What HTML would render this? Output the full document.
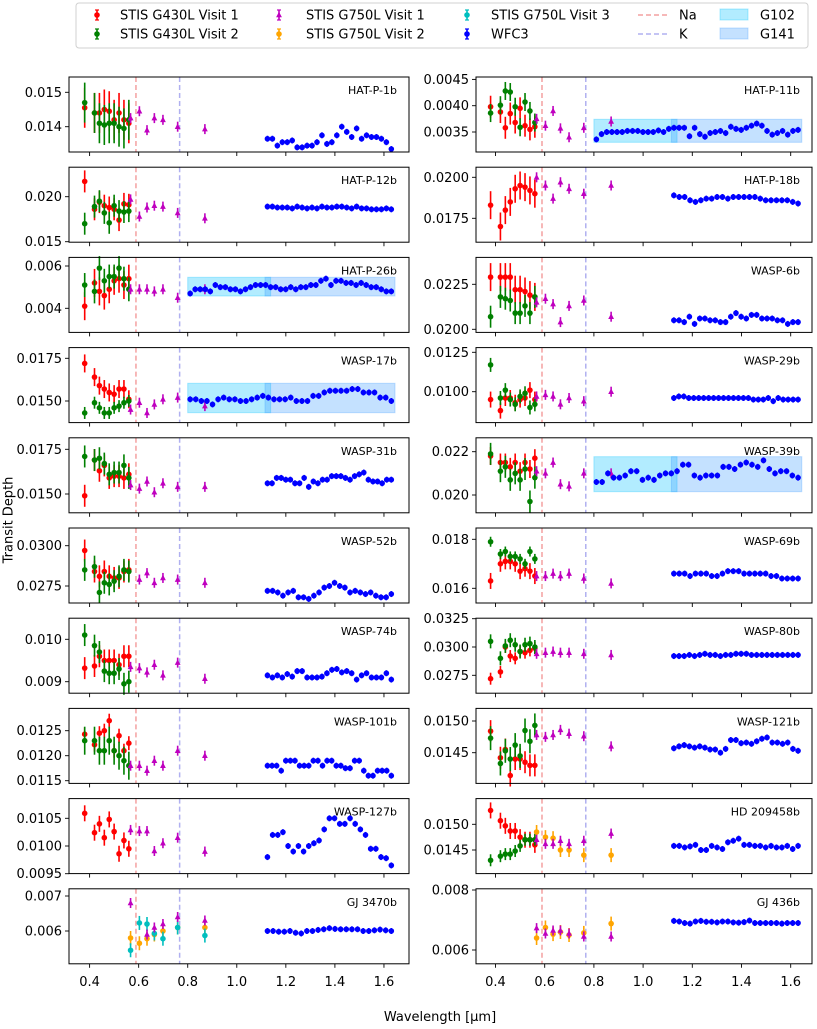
<!DOCTYPE html>
<html><head><meta charset="utf-8"><style>
body{margin:0;background:#fff}
svg text{font-family:"DejaVu Sans","Liberation Sans",sans-serif;fill:#000}
</style></head><body>
<svg id="s" xmlns="http://www.w3.org/2000/svg" width="817" height="1024" viewBox="0 0 817 1024">
<rect x="0" y="0" width="817" height="1024" fill="#fff"/>
<rect x="76" y="3" width="732" height="45" rx="3" fill="#fff" stroke="#d0d0d0"/>
<text x="9" y="520" font-size="13" transform="rotate(-90 9 520)" text-anchor="middle" dominant-baseline="middle">Transit Depth</text>
<text x="440" y="1021" font-size="13" text-anchor="middle">Wavelength [µm]</text>
</svg>
<script>
const S=document.getElementById('s');const NS='http://www.w3.org/2000/svg';
function el(t,a,txt){const e=document.createElementNS(NS,t);for(const k in a)e.setAttribute(k,a[k]);if(txt!==undefined)e.textContent=txt;S.appendChild(e);return e;}
const COL={R:'#ff0000',G:'#008000',M:'#bf00bf',O:'#ffa500',C:'#00bfbf',B:'#0000ff'};
const W1=[0.38,0.42,0.44,0.46,0.48,0.50,0.52,0.54,0.56];
const W2=[0.567,0.603,0.634,0.664,0.699,0.759,0.87];
function mark(x,y,c,tri,e){
  el('line',{x1:x,y1:y-e,x2:x,y2:y+e,stroke:c,'stroke-width':1.6});
  if(tri)el('polygon',{points:`${x},${y-3.3} ${x-2.9},${y+2.3} ${x+2.9},${y+2.3}`,fill:c});
  else el('circle',{cx:x,cy:y,r:2.8,fill:c});
}
// legend
function legItem(mx,y,c,tri,label,tx){mark(mx,y,c,tri,5);el('line',{x1:mx-2,y1:y-5,x2:mx+2,y2:y-5,stroke:c,'stroke-width':1.2});el('line',{x1:mx-2,y1:y+5,x2:mx+2,y2:y+5,stroke:c,'stroke-width':1.2});el('text',{x:tx,y:y+4.5,'font-size':13},label);}
legItem(97,15,COL.R,0,'STIS G430L Visit 1',120);
legItem(97,34,COL.G,0,'STIS G430L Visit 2',120);
legItem(279,15,COL.M,1,'STIS G750L Visit 1',306);
legItem(279,34,COL.O,0,'STIS G750L Visit 2',306);
legItem(467,15,COL.C,0,'STIS G750L Visit 3',491);
legItem(467,34,COL.B,0,'WFC3',491);
el('line',{x1:638,y1:15,x2:668,y2:15,stroke:'#f4a0a0','stroke-width':1.5,'stroke-dasharray':'5,3'});
el('text',{x:679,y:19.5,'font-size':13},'Na');
el('line',{x1:638,y1:34,x2:668,y2:34,stroke:'#b0b0f0','stroke-width':1.5,'stroke-dasharray':'5,3'});
el('text',{x:679,y:38.5,'font-size':13},'K');
el('rect',{x:720,y:9,width:28,height:11,fill:'#00bfff','fill-opacity':0.3,stroke:'#00bfff','stroke-opacity':0.3});
el('text',{x:760,y:19.5,'font-size':13},'G102');
el('rect',{x:720,y:28,width:28,height:11,fill:'#3a9bff','fill-opacity':0.3,stroke:'#3a9bff','stroke-opacity':0.3});
el('text',{x:760,y:38.5,'font-size':13},'G141');

const P=[
{n:'HAT-P-1b',c:0,r:0,a:[.015,92.3,.014,126.7],t:[['0.015',.015],['0.014',.014]],
R:[.01455,.0144,.0144,.0145,.01445,.0142,.0144,.0142,.0141],G:[.0147,.0144,.0141,.01405,.0141,.0141,.0140,.01395,.0142],ge:20,re:20,
M:[.01425,.01445,.0139,.01425,.0142,.0140,.01393],
B:[.01365,.01365,.01345,.01355,.01355,.0136,.0134,.0134,.01345,.01345,.01355,.01375,.0135,.01355,.01375,.0140,.01385,.0137,.01395,.01365,.01375,.0137,.0137,.01365,.01355,.01335]},
{n:'HAT-P-11b',c:1,r:0,a:[.004,105.7,.0035,132],t:[['0.0045',.0045],['0.0040',.004],['0.0035',.0035]],
R:[.00398,.00388,.00358,.00385,.00368,.00395,.00362,.00355,.0036],G:[.00386,.00401,.00428,.00426,.00398,.00359,.00407,.0039,.00368],ge:9,
M:[.00375,.00362,.0039,.00357,.0034,.00358,.0037],band:[119.3,142.3],b0:0.81,
B:[.00336,.00346,.0035,.0035,.0035,.0035,.00352,.00352,.00352,.0035,.0035,.0035,.00353,.0035,.00356,.00358,.00358,.00358,.00342,.00358,.00346,.00341,.00348,.0035,.00352,.00348,.0036,.00356,.00354,.00358,.00362,.00366,.00362,.00352,.00345,.00348,.00352,.00345,.00352,.00354]},
{n:'HAT-P-12b',c:0,r:1,a:[.02,196.7,.015,241.7],t:[['0.020',.02],['0.015',.015]],
R:[.0217,.0186,.0194,.0190,.0188,.0186,.0174,.0192,.0191],G:[.0170,.0189,.0195,.0182,.0171,.0190,.0184,.0183,.0184],
M:[.0197,.0178,.0188,.0190,.0189,.0182,.0176],
B:[.0189,.0189,.0188,.0188,.0188,.0187,.0189,.0188,.0187,.0188,.0187,.0189,.0188,.0188,.0189,.0189,.0188,.0187,.0189,.0187,.0187,.0186,.0186,.0186,.0187,.0186]},
{n:'HAT-P-18b',c:1,r:1,a:[.02,177.3,.0175,218.3],t:[['0.0200',.02],['0.0175',.0175]],
R:[.0183,.0170,.0180,.0185,.0193,.0195,.0194,.0192,.0190],re:14,
M:[.0200,.0195,.0187,.0197,.0193,.0190,.0195],
B:[.0189,.0188,.0188,.0186,.0185,.0186,.0187,.0187,.0188,.0188,.0187,.0188,.0188,.0188,.0188,.0188,.0187,.0186,.0186,.0186,.0186,.0186,.0185,.0184]},
{n:'HAT-P-26b',c:0,r:2,a:[.006,266,.004,308.3],t:[['0.006',.006],['0.004',.004]],
R:[.0041,.0052,.0048,.0046,.0049,.0053,.0054,.0051,.0054],G:[.0051,.0048,.0059,.0053,.0055,.0055,.0059,.0054,.0049],re:14,ge:12,
M:[.0049,.0049,.0049,.0048,.0049,.0045,.0049],band:[277.3,296],b0:0.81,
B:[.0047,.0049,.0049,.0049,.0048,.0051,.0050,.0050,.0049,.0049,.0048,.0049,.0050,.0051,.0051,.0051,.0050,.0050,.0049,.0049,.0050,.0049,.0050,.0050,.0051,.0051,.0053,.0054,.0051,.0053,.0053,.0052,.0052,.0051,.0052,.0051,.0050,.0050,.0049,.0048,.0048]},
{n:'WASP-6b',c:1,r:2,a:[.0225,284.3,.02,329.3],t:[['0.0225',.0225],['0.0200',.02]],
R:[.0229,.0229,.0229,.0229,.0222,.0222,.0221,.0219,.0218],G:[.0207,.0218,.0217,.0216,.0209,.0209,.0213,.0209,.0218],re:14,
M:[.0215,.0217,.0214,.0204,.0213,.0216,.0207],
B:[.0205,.0205,.0204,.0207,.0203,.0206,.0206,.0205,.0205,.0204,.0204,.0207,.0209,.0207,.0206,.0208,.0208,.0206,.0206,.0206,.0205,.0205,.0203,.0204,.0204]},
{n:'WASP-17b',c:0,r:3,a:[.0175,358.3,.015,401],t:[['0.0175',.0175],['0.0150',.015]],
R:[.0172,.0164,.0159,.0157,.0155,.0154,.0157,.0157,.0151],G:[.0143,.0149,.0146,.0143,.0143,.0146,.0147,.0149,.0150],re:9,ge:6,
M:[.0145,.0149,.0143,.0148,.0151,.0152,.0147],band:[383.3,412.7],b0:0.81,
B:[.0151,.0151,.0150,.0150,.0148,.0151,.0152,.0151,.0151,.0150,.0150,.0151,.0152,.0153,.0152,.0151,.0151,.0151,.0152,.0150,.0150,.0150,.0153,.0153,.0155,.0156,.0156,.0156,.0156,.0157,.0157,.0155,.0155,.0155,.0152,.0152,.0150]},
{n:'WASP-29b',c:1,r:3,a:[.0125,352.3,.01,391.7],t:[['0.0125',.0125],['0.0100',.01]],
R:[.0095,.0088,.0096,.0096,.0093,.0095,.0096,.0101,.0095],G:[.0117,.0096,.0101,.0095,.0092,.0097,.0099,.0090,.0092],re:8,ge:7,
M:[.0097,.0098,.0097,.0092,.0096,.0094,.0100],
B:[.0096,.0097,.0097,.0096,.0096,.0096,.0096,.0096,.0096,.0096,.0096,.0096,.0096,.0096,.0096,.0096,.0095,.0095,.0095,.0096,.0094,.0096,.0095,.0095,.0095,.0095]},
{n:'WASP-31b',c:0,r:4,a:[.0175,449.3,.015,494],t:[['0.0175',.0175],['0.0150',.015]],
R:[.0149,.0169,.0163,.0166,.0159,.0160,.0160,.0159,.0161],G:[.0171,.0169,.0170,.0167,.0161,.0162,.0162,.0166,.0159],
M:[.0155,.0153,.0157,.0151,.0156,.0154,.0154],
B:[.0156,.0156,.0159,.0159,.0158,.0158,.0156,.0156,.0159,.0154,.0157,.0156,.0158,.0158,.0160,.0160,.0160,.0159,.0158,.0160,.0161,.0162,.0158,.0157,.0157,.0156,.0158,.0158]},
{n:'WASP-39b',c:1,r:4,a:[.022,451.7,.02,495],t:[['0.022',.022],['0.020',.02]],
R:[.0218,.0215,.0215,.0213,.0215,.0211,.0215,.0212,.0217],G:[.0219,.0211,.0213,.0207,.0210,.0207,.0212,.0197,.0208],re:9,
M:[.0211,.0210,.0215,.0205,.0204,.0210,.0210],band:[456.7,491.7],b0:0.81,
B:[.0206,.0206,.0210,.0208,.0208,.0209,.0211,.0211,.0207,.0208,.0207,.0209,.0210,.0210,.0211,.0214,.0214,.0209,.0208,.0209,.0209,.0209,.0213,.0213,.0212,.0214,.0215,.0214,.0213,.0216,.0212,.0210,.0211,.0211,.0209,.0208]},
{n:'WASP-52b',c:0,r:5,a:[.03,545.7,.0275,586],t:[['0.0300',.03],['0.0275',.0275]],
R:[.0297,.0284,.0281,.0284,.0281,.0280,.0280,.0284,.0285],G:[.0285,.0287,.0271,.0277,.0276,.0278,.0281,.0285,.0284],
M:[null,.0279,.0283,.0277,.0280,.0279,.0277],
B:[.0272,.0272,.0271,.0269,.0271,.0272,.0268,.0268,.0267,.0269,.0271,.0274,.0275,.0277,.0275,.0274,.0271,.0272,.0271,.0270,.0271,.0269,.0268,.0268,.0270]},
{n:'WASP-69b',c:1,r:5,a:[.018,539.3,.016,588.3],t:[['0.018',.018],['0.016',.016]],
R:[.0163,.0170,.0171,.0171,.0170,.0167,.0168,.0167,.0165],G:[.0179,.0174,.0175,.0173,.0173,.0172,.0170,.0175,.0172],re:8,ge:5,
M:[.0165,.0165,.0166,.0165,.0166,.0164,.0162],
B:[.0166,.0166,.0166,.0165,.0166,.0166,.0166,.0165,.0165,.0166,.0167,.0167,.0167,.0166,.0166,.0166,.0166,.0166,.0165,.0165,.0164,.0164,.0164,.0164]},
{n:'WASP-74b',c:0,r:6,a:[.01,639.3,.009,681.7],t:[['0.010',.01],['0.009',.009]],
R:[.00932,.00937,.0096,.0095,.0095,.0095,.0094,.0096,.0096],G:[.0101,.00985,.0097,.00925,.0092,.0092,.0093,.00895,.0090],
M:[.00935,.00932,.00922,.0094,.00915,.00945,.00907],
B:[.00915,.0091,.00915,.0091,.00918,.00912,.00925,.00925,.0091,.0091,.0091,.00912,.0092,.00928,.0093,.00922,.00925,.0092,.00905,.00915,.0092,.0091,.0091,.0091,.0092,.00905]},
{n:'WASP-80b',c:1,r:6,a:[.03,647,.0275,675.3],t:[['0.0325',.0325],['0.0300',.03],['0.0275',.0275]],
R:[.0272,.0278,.0300,.0292,.0290,.0296,.0295,.0297,.0299],G:[.0305,.0290,.0301,.0306,.0302,.0296,.0302,.0303,.0300],re:6,ge:7,
M:[.0294,.0295,.0296,.0295,.0295,.0294,.0293],
B:[.0292,.0292,.0292,.0293,.0292,.0293,.0294,.0293,.0293,.0292,.0293,.0293,.0294,.0294,.0294,.0293,.0293,.0293,.0293,.0293,.0293,.0293,.0293,.0293,.0293]},
{n:'WASP-101b',c:0,r:7,a:[.0125,730.7,.012,755.7],t:[['0.0125',.0125],['0.0120',.012],['0.0115',.0115]],
R:[.01243,.01222,.01245,.0125,.0127,.0121,.0124,.0121,.01225],G:[.0123,.0123,.0121,.0121,.0123,.0121,.0120,.0119,.0118],ge:14,re:7,
M:[.0118,.0118,.0117,.0119,.0118,.0121,.0120],
B:[.0118,.0118,.0118,.0117,.0119,.0119,.0119,.0118,.0118,.0118,.0119,.0119,.0118,.0119,.0119,.0118,.0118,.01175,.01175,.0119,.0119,.0117,.0116,.0116,.0117,.0117,.0117,.0116]},
{n:'WASP-121b',c:1,r:7,a:[.015,721,.0145,752.7],t:[['0.0150',.015],['0.0145',.0145]],
R:[.01484,.01442,.01455,.01414,.0144,.0144,.01435,.0143,.0143],G:[.01473,.01433,.01453,.0144,.01462,.01445,.01485,.01468,.01493],ge:12,
M:[.01478,.01475,.01478,.01486,.0148,.01476,.0146],
B:[.01457,.0146,.01462,.0146,.01458,.0146,.01458,.01455,.01455,.0145,.01456,.0147,.0147,.01465,.01466,.01464,.01468,.01472,.01474,.01466,.01466,.01464,.01466,.01456,.01453]},
{n:'WASP-127b',c:0,r:8,a:[.0105,818.3,.01,846],t:[['0.0105',.0105],['0.0100',.01],['0.0095',.0095]],
R:[.01059,.01024,.0104,.01015,.01048,.01026,.00986,.0101,.00995],re:8,
M:[.01029,.01027,.01027,.00991,.01005,.01015,.0099],
B:[.0098,.0102,.0102,.01025,.0100,.0099,.0100,.0099,.0100,.01005,.0101,.0103,.0105,.0105,.0104,.0104,.0105,.0104,.0103,.0102,.00995,.00995,.0098,.00978,.00965]},
{n:'HD 209458b',c:1,r:8,a:[.015,824.3,.0145,850],t:[['0.0150',.015],['0.0145',.0145]],
R:[.01527,.01507,.01497,.01487,.01487,.01475,.0147,.0147,.0146],G:[.0143,.01438,.01442,.01442,.01448,.01458,.0147,.0147,.0147],re:8,ge:6,
M:[.0147,.01462,.01462,.01468,.01462,.01468,.01482],O:[.01485,.01475,.01473,.0145,.0145,.0144,.0144],
B:[.01458,.01458,.01455,.01457,.0146,.0145,.0145,.01458,.01455,.01452,.01465,.01468,.01472,.0146,.0146,.01458,.01458,.01455,.01458,.01455,.01455,.01458,.01452,.01458]},
{n:'GJ 3470b',c:0,r:9,a:[.007,896,.006,931],t:[['0.007',.007],['0.006',.006]],
M:[.0068,null,.0059,.0061,.0062,.0064,.0063],O:[.0058,.00565,.00578,.0059,.006,.0061,.0061],C:[.00545,.00623,.0062,.00593,.00578,.0061,.00587],
B:[.006,.006,.00598,.00598,.006,.00595,.00593,.006,.006,.00603,.00605,.00608,.00606,.00605,.00605,.00605,.00605,.006,.006,.00602,.00604,.00602,.006]},
{n:'GJ 436b',c:1,r:9,a:[.008,890,.006,950],t:[['0.008',.008],['0.006',.006]],
M:[.00673,.00655,.00665,.00665,.00655,.00645,.00645],O:[.0064,.00675,.00653,.0066,.0065,.00657,.00688],
B:[.00697,.00695,.0069,.00688,.00695,.00697,.00694,.00694,.00692,.00695,.00695,.00692,.00691,.00693,.00698,.0069,.0069,.0069,.0069,.0069,.00688,.0069,.0069,.0069]}
];
for(const p of P){
  const L=p.c?476:69,Rr=p.c?812:409,T=77+p.r*90.2,H=75,B=T+H;
  const X=w=>p.c?495.5+(w-0.4)*246:89.6+(w-0.4)*245.3;
  const [v1,y1,v2,y2]=p.a;const Y=v=>y1+(v-v1)*(y2-y1)/(v2-v1);
  const g=document.createElementNS(NS,'clipPath');g.id='c'+p.n.replace(/\W/g,'');
  const cr=document.createElementNS(NS,'rect');cr.setAttribute('x',L);cr.setAttribute('y',T);cr.setAttribute('width',Rr-L);cr.setAttribute('height',H);g.appendChild(cr);S.appendChild(g);
  if(p.band){
    el('rect',{x:X(0.80),y:p.band[0],width:X(1.138)-X(0.80),height:p.band[1]-p.band[0],fill:'#00bfff','fill-opacity':0.3,stroke:'#00bfff','stroke-opacity':0.3});
    el('rect',{x:X(1.115),y:p.band[0],width:X(1.645)-X(1.115),height:p.band[1]-p.band[0],fill:'#3a9bff','fill-opacity':0.3,stroke:'#3a9bff','stroke-opacity':0.3});
  }
  el('line',{x1:X(0.589),y1:T,x2:X(0.589),y2:B,stroke:'#f4a0a0','stroke-width':1.5,'stroke-dasharray':'5,3'});
  el('line',{x1:X(0.767),y1:T,x2:X(0.767),y2:B,stroke:'#b0b0f0','stroke-width':1.5,'stroke-dasharray':'5,3'});
  const ser=(arr,ws,c,tri,e)=>{if(!arr)return;arr.forEach((v,i)=>{if(v==null)return;const y=Y(v);if(y<T-5||y>B+5)return;mark(X(ws[i]),y,c,tri,e);});};
  ser(p.R,W1,COL.R,0,p.re||11);
  ser(p.G,W1,COL.G,0,p.ge||11);
  ser(p.O,W2,COL.O,0,7);
  ser(p.C,W2,COL.C,0,7);
  ser(p.M,W2,COL.M,1,5);
  if(p.B){const b0=p.b0||1.125,n=p.B.length;ser(p.B,p.B.map((_,i)=>b0+(1.63-b0)*i/(n-1)),COL.B,0,3);}
  el('rect',{x:L,y:T,width:Rr-L,height:H,fill:'none',stroke:'#000','stroke-width':1});
  for(let w=0.4;w<1.61;w+=0.2){const x=X(w);el('line',{x1:x,y1:B,x2:x,y2:B+4,stroke:'#000','stroke-width':0.9});
    if(p.r==9)el('text',{x:x,y:B+22,'font-size':13,'text-anchor':'middle'},w.toFixed(1));}
  for(const [s,v] of p.t){const y=Y(v);el('line',{x1:L-4,y1:y,x2:L,y2:y,stroke:'#000','stroke-width':0.9});
    el('text',{x:L-7,y:y+4.5,'font-size':13,'text-anchor':'end'},s);}
  el('text',{x:Rr-12,y:T+17,'font-size':11,'text-anchor':'end'},p.n);
}
</script>
</body></html>
